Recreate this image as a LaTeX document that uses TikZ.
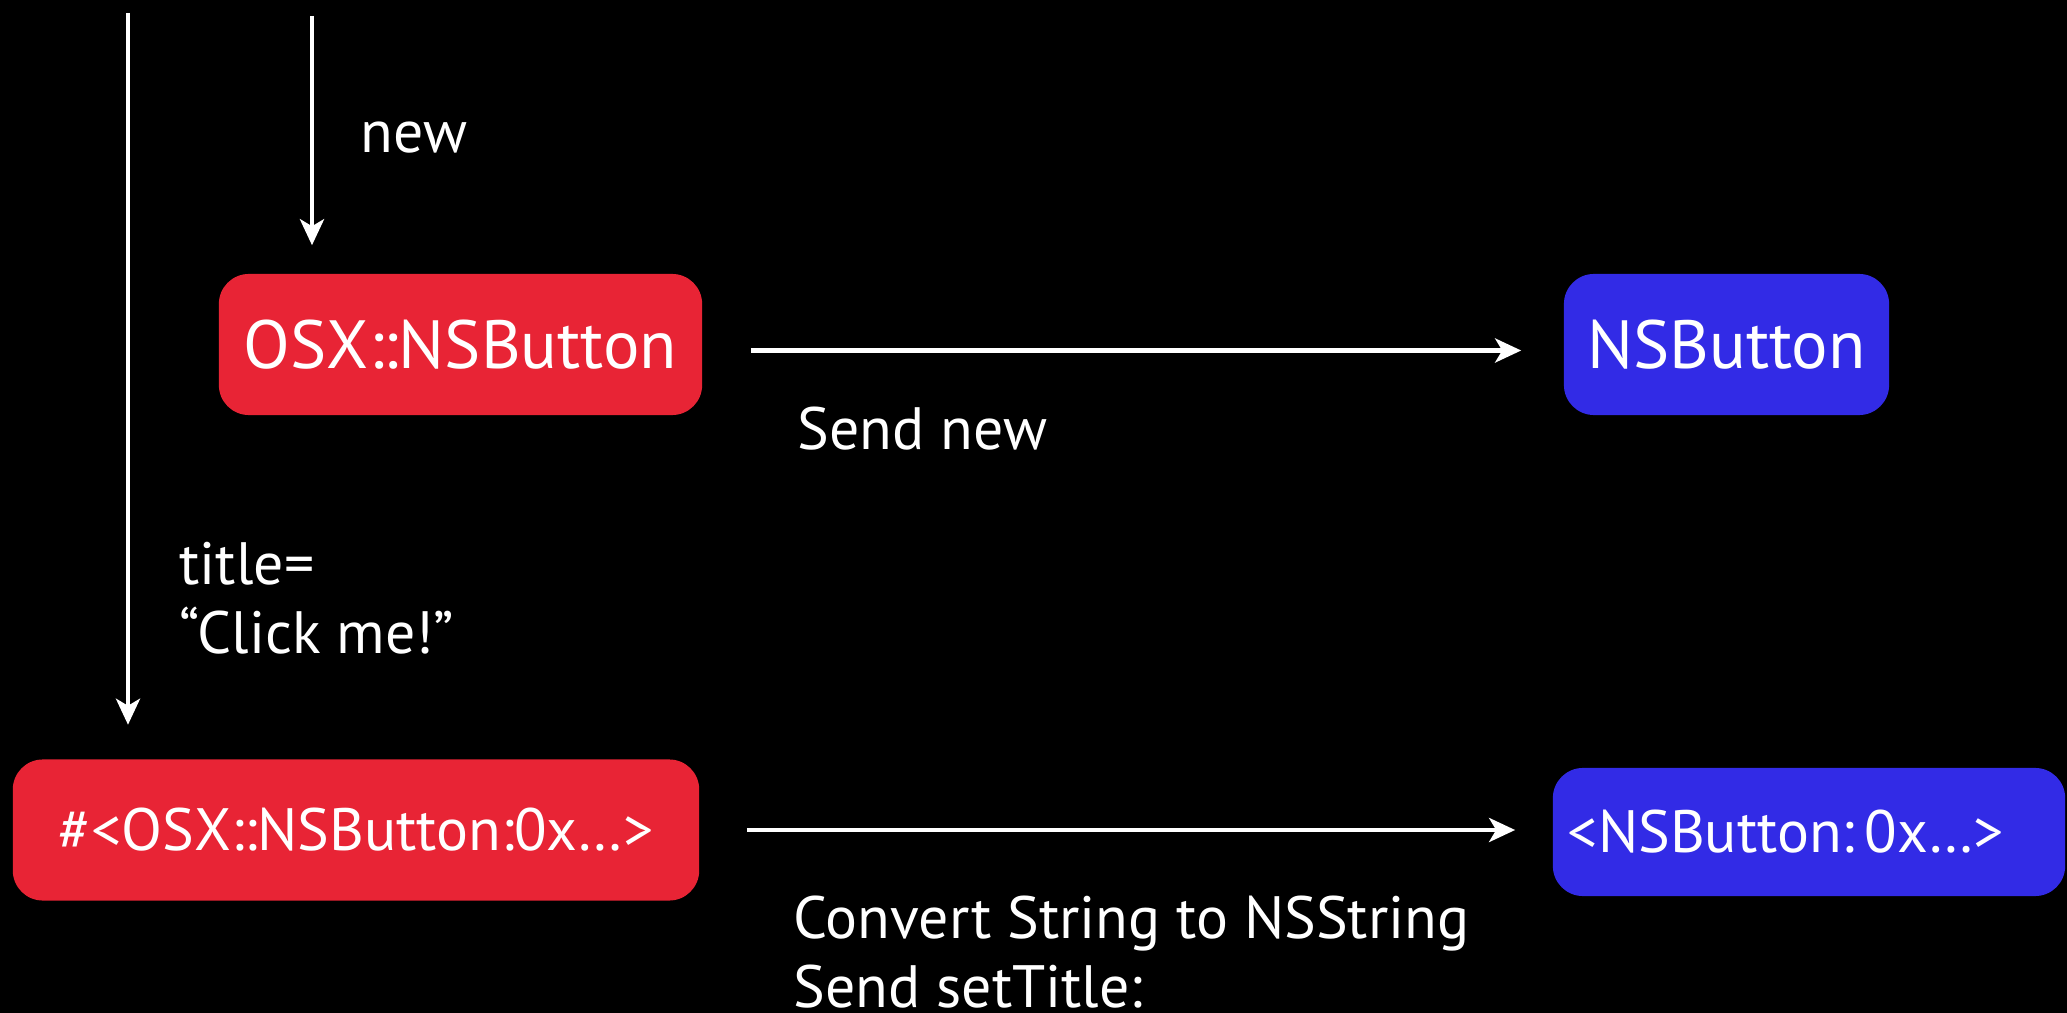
\documentclass[tikz,border=0pt]{standalone}
\usepackage{fontspec}
\setmainfont{PT Sans}
\usetikzlibrary{arrows.meta}

\definecolor{rubyred}{RGB}{232,36,53}
\definecolor{cocoablue}{RGB}{50,43,230}

\tikzset{
  rubybox/.style={fill=rubyred, rounded corners=0.3cm, text=white, inner sep=0pt},
  cocoabox/.style={fill=cocoablue, rounded corners=0.3cm, text=white, inner sep=0pt},
  msg/.style={draw=white, line width=1.3pt, -{Stealth[length=0.26cm,width=0.24cm,inset=0.07cm]}},
  note/.style={text=white, anchor=base west, inner sep=0pt, align=left, font=\fontsize{17}{19.4}\selectfont},
}

\begin{document}
\begin{tikzpicture}[x=0.01cm,y=-0.01cm]
\fill[black] (0,0) rectangle (2067,1013);
\useasboundingbox (0,0) rectangle (2067,1013);
% ruby objects
\node[rubybox, minimum width=4.83cm, minimum height=1.41cm, font=\fontsize{19.4}{24}\selectfont] (osx) at (460.5,344.5) {OSX::NSButton};
\node[rubybox, minimum width=6.86cm, minimum height=1.41cm, font=\fontsize{17}{20}\selectfont] (osxobj) at (356,830) {\#<OSX::NSButton:0x…>};
% cocoa objects
\node[cocoabox, minimum width=3.25cm, minimum height=1.41cm, font=\fontsize{19.4}{24}\selectfont] (nsb) at (1726.5,344.5) {NSButton};
\node[cocoabox, minimum width=5.12cm, minimum height=1.28cm, text width=4.82cm, align=left, font=\fontsize{17}{20}\selectfont] (nsbobj) at (1809,832) {<NSButton:\,0x…>};
% incoming calls
\coordinate (lifeline) at (128,13);
\coordinate (newtop) at (312,16);
\draw[msg, shorten >=0.28cm] (newtop) -- (newtop |- osx.north);
\draw[msg, shorten >=0.34cm] (lifeline) -- (lifeline |- osxobj.north);
% bridge
\draw[msg, shorten <=0.48cm, shorten >=0.42cm] ([yshift=-0.06cm]osx.east) -- ([yshift=-0.06cm]osx.east -| nsb.west);
\draw[msg, shorten <=0.47cm, shorten >=0.37cm] (osxobj.east) -- (osxobj.east -| nsbobj.west);
% labels
\node[note] (newlbl) at (360,153) {new};
\node[note] (titlelbl) at (179,653) {title=\\“Click me!”};
\node[note] (sendlbl) at (797,450) {Send new};
\node[note] (convlbl) at (793,1007) {Convert String to NSString\\Send setTitle:};
\end{tikzpicture}
\end{document}
